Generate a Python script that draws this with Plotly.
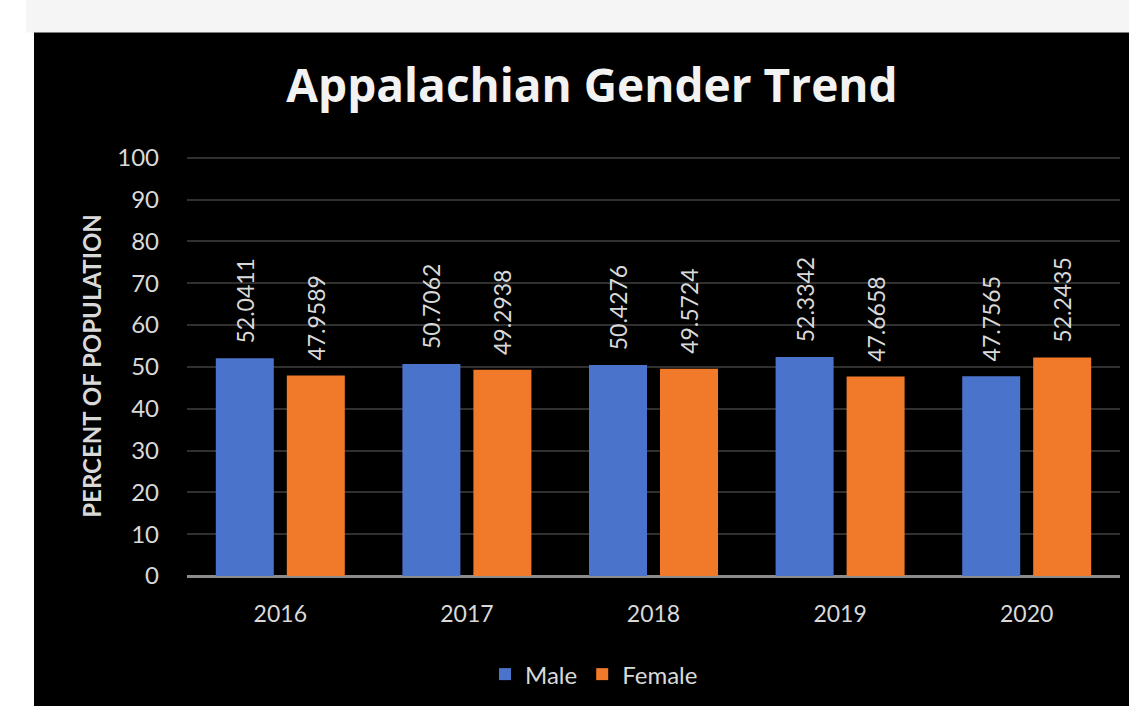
import plotly.graph_objects as go

years = ["2016", "2017", "2018", "2019", "2020"]
male = [52.0411, 50.7062, 50.4276, 52.3342, 47.7565]
female = [47.9589, 49.2938, 49.5724, 47.6658, 52.2435]
y_ticks = [0, 10, 20, 30, 40, 50, 60, 70, 80, 90, 100]

FONT = "Lato"
LABEL = "#d9d9d9"
PAD = "\u00a0\u00a0"

fig = go.Figure()
fig.add_trace(go.Bar(
    x=years, y=male, name="Male",
    marker=dict(color="#4a74cb", line=dict(width=0)),
    text=[PAD + f"{v:g}" for v in male],
    textposition="outside", textangle=-90, cliponaxis=False, constraintext="none",
    textfont=dict(family=FONT, size=23, color=LABEL),
))
fig.add_trace(go.Bar(
    x=years, y=female, name="Female",
    marker=dict(color="#f07a2a", line=dict(width=0)),
    text=[PAD + f"{v:g}" for v in female],
    textposition="outside", textangle=-90, cliponaxis=False, constraintext="none",
    textfont=dict(family=FONT, size=23, color=LABEL),
))

W, H = 1129, 706
L, R, T, B = 187, 9, 156, 128
pw, ph = W - L - R, H - T - B

def px(x):
    return (x - L) / pw

def py(y):
    return (H - B - y) / ph

shapes = [
    dict(type="rect", xref="paper", yref="paper", layer="below",
         x0=px(-5), x1=px(W + 5), y0=py(H + 5), y1=py(-5),
         fillcolor="white", line=dict(width=0)),
    dict(type="rect", xref="paper", yref="paper", layer="below",
         x0=px(26), x1=px(W + 5), y0=py(32), y1=py(-5),
         fillcolor="#f5f5f5", line=dict(width=0)),
    dict(type="rect", xref="paper", yref="paper", layer="below",
         x0=px(34), x1=px(W + 5), y0=py(H + 5), y1=py(32),
         fillcolor="black", line=dict(width=0)),
]

fig.update_layout(
    width=W, height=H,
    margin=dict(l=L, r=R, t=T, b=B, pad=0),
    paper_bgcolor="black", plot_bgcolor="black",
    shapes=shapes,
    barmode="group", bargap=0.239, bargroupgap=0.183,
    title=dict(text="<b>Appalachian Gender Trend</b>", x=px(592), xanchor="center",
               y=1 - 86 / H, yanchor="middle", xref="paper",
               font=dict(family="Open Sans", size=46, color="#f2f2f2")),
    font=dict(family=FONT, color=LABEL),
    xaxis=dict(showgrid=False, showline=False, ticks="", ticklabelstandoff=22,
               tickfont=dict(family=FONT, size=23, color=LABEL)),
    yaxis=dict(range=[0, 100.4], tickvals=y_ticks, showgrid=True,
               gridcolor="#303030", gridwidth=1.5, zeroline=True,
               zerolinecolor="#8c8c8c", zerolinewidth=2.5,
               ticks="", ticklabelstandoff=27,
               tickfont=dict(family=FONT, size=24, color=LABEL),
               title=dict(text="<b>PERCENT OF POPULATION</b>", standoff=8,
                          font=dict(family=FONT, size=24, color=LABEL))),
    legend=dict(orientation="h", x=px(594), xanchor="center", y=py(677), yanchor="middle",
                font=dict(family=FONT, size=24, color=LABEL), itemwidth=30,
                traceorder="normal", bgcolor="rgba(0,0,0,0)"),
    showlegend=True,
)

fig.write_html("out.html")
